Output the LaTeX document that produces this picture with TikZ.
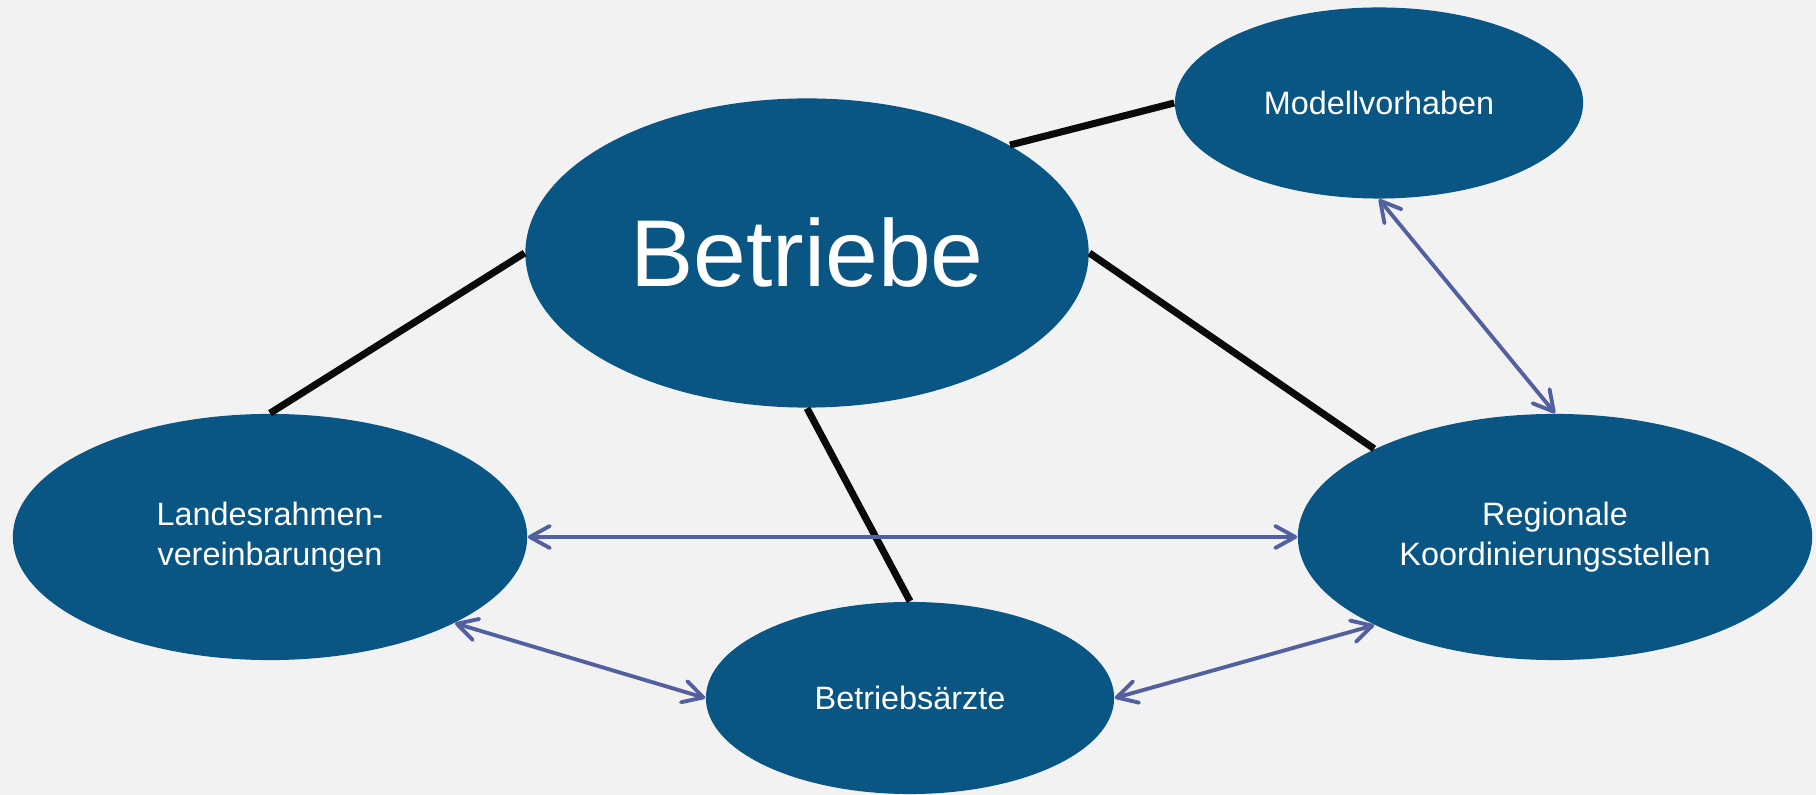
\documentclass[tikz,border=0pt]{standalone}
\usepackage{fontspec}
\setmainfont{Liberation Sans}
\usetikzlibrary{shapes.geometric, arrows.meta}
\definecolor{nodeblue}{HTML}{095584}
\definecolor{linkblue}{HTML}{5360A0}
\definecolor{bggray}{HTML}{F2F2F2}

\begin{document}
\begin{tikzpicture}[
	x=0.01cm, y=-0.01cm,
	partner/.style={ellipse, fill=nodeblue, text=white, inner sep=0pt, align=center, font=\fontsize{9.2}{11.2}\selectfont},
	tie/.style={line width=2pt, black!96},
	link/.style={{Straight Barb[round,length=2mm,width=2.2mm]}-{Straight Barb[round,length=2mm,width=2.2mm]}, line width=1.1pt, linkblue},
]
	% Background
	\fill[bggray] (0,0) rectangle (1816,795);

	% Central node
	\node[partner, minimum width=5.63cm, minimum height=3.09cm, font=\fontsize{27}{32}\selectfont] (betriebe) at (807,253) {Betriebe};

	% Partner nodes
	\node[partner, minimum width=4.08cm, minimum height=1.91cm] (modell) at (1379,103) {Modellvorhaben};
	\node[partner, minimum width=5.14cm, minimum height=2.46cm] (landes) at (270,537) {Landesrahmen-\\vereinbarungen};
	\node[partner, minimum width=5.14cm, minimum height=2.46cm] (regional) at (1555,537) {Regionale\\Koordinierungsstellen};
	\node[partner, minimum width=4.08cm, minimum height=1.92cm] (aerzte) at (910,698) {Betriebsärzte};

	% Ties from the central node
	\draw[tie] (betriebe.28.5) -- (modell.west);
	\draw[tie] (betriebe.west) -- (landes.north);
	\draw[tie] (betriebe.east) -- (regional.154);
	\draw[tie] (betriebe.south) -- (aerzte.north);

	% Links between partners
	\draw[link] (modell.south) -- (regional.north);
	\draw[link] (landes.east) -- (regional.west);
	\draw[link] (landes.-25.7) -- (aerzte.west);
	\draw[link] (aerzte.east) -- (regional.-154.3);
\end{tikzpicture}
\end{document}
